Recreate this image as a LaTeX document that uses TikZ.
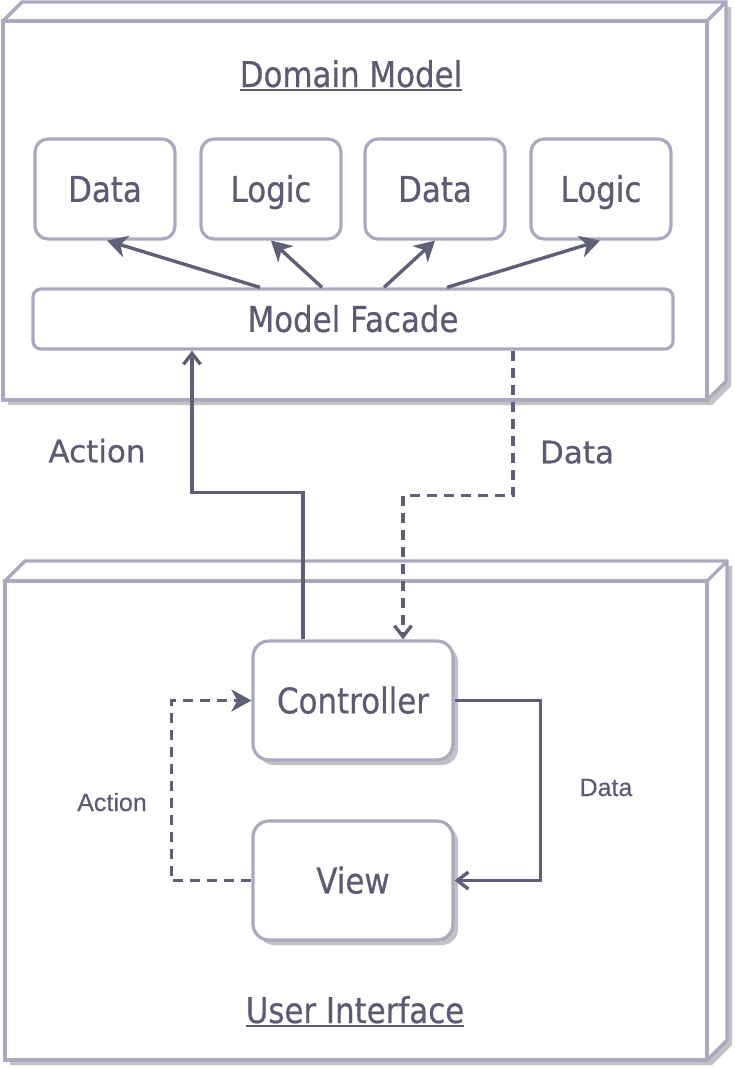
\documentclass[tikz,border=0pt]{standalone}
\usepackage{fontspec}
\setmainfont{DejaVu Sans}[FakeBold=0.4]
\newfontfamily\boxfont{DejaVu Sans}[FakeStretch=0.87,FakeBold=0.5]
\newfontfamily\lblfont{Liberation Sans}[FakeBold=0.3]
\usetikzlibrary{arrows.meta,shadows,calc}
\definecolor{bord}{HTML}{A9A9C0}
\definecolor{ink}{HTML}{5B5B74}
\definecolor{wire}{HTML}{5F5F78}
\definecolor{shd}{HTML}{C2C2C2}
\begin{document}
\begin{tikzpicture}[x=1pt,y=-1pt,
  cube/.style={draw=bord, line width=3.2pt, line join=miter},
  boxtext/.style={text=ink, font=\boxfont\fontsize{35.5}{40}\selectfont, text height=25.8pt, text depth=0pt, inner sep=0pt},
  part/.style={boxtext, draw=bord, line width=3.2pt, fill=white, rounded corners=13pt, minimum width=140pt, minimum height=100pt},
  facade/.style={part, rounded corners=8pt, minimum width=640pt, minimum height=60pt},
  comp/.style={part, rounded corners=16pt, minimum width=200pt, minimum height=119pt,
    drop shadow={shadow xshift=5pt, shadow yshift=-5pt, fill=shd, opacity=1}},
  title/.style={text=ink, font=\boxfont\fontsize{35.5}{40}\selectfont, inner sep=0pt, anchor=base},
  biglbl/.style={text=ink, font=\fontsize{31}{36}\selectfont, text height=22.6pt, text depth=0pt, inner sep=0pt},
  smalllbl/.style={text=ink, font=\lblfont\fontsize{25}{30}\selectfont, text height=18pt, text depth=0pt, inner sep=0pt},
  conn/.style={draw=wire, line width=3.4pt},
  dashconn/.style={conn, dash pattern=on 10pt off 7pt},
  fillhead/.style={-{Stealth[length=20pt,width=22pt,inset=6pt]}},
  openhead/.style={-{Straight Barb[length=11pt,width=17pt]}}
]
\useasboundingbox (0,0) rectangle (734,1068);
\fill[white] (0,0) rectangle (734,1068);

% Domain Model container
\fill[shd] (8,26) -- (27,7) -- (731,7) -- (731,386) -- (712,405) -- (8,405) -- cycle;
\fill[white] (3,21) -- (22,2) -- (726,2) -- (726,381) -- (707,400) -- (3,400) -- cycle;
\draw[cube] (3,21) rectangle (707,400);
\draw[cube] (3,21) -- (22,2) -- (726,2) -- (726,381) -- (707,400);
\draw[cube] (707,21) -- (726,2);

% User Interface container
\fill[shd] (10,586) -- (30,566) -- (732,566) -- (732,1045) -- (712,1065) -- (10,1065) -- cycle;
\fill[white] (5,581) -- (25,561) -- (727,561) -- (727,1040) -- (707,1060) -- (5,1060) -- cycle;
\draw[cube] (5,581) rectangle (707,1060);
\draw[cube] (5,581) -- (25,561) -- (727,561) -- (727,1040) -- (707,1060);
\draw[cube] (707,581) -- (727,561);

% titles
\node[title] (dm) at (351,87) {Domain Model};
\draw[ink, line width=1.8pt] ([yshift=-3pt]dm.base west) -- ([yshift=-3pt]dm.base east);
\node[title] (ui) at (355,1023) {User Interface};
\draw[ink, line width=1.8pt] ([yshift=-3pt]ui.base west) -- ([yshift=-3pt]ui.base east);

% domain parts
\node[part] (d1) at (105,189) {Data};
\node[part] (l1) at (271,189) {Logic};
\node[part] (d2) at (435,189) {Data};
\node[part] (l2) at (601,189) {Logic};
\node[facade] (mf) at (353,319) {Model Facade};

\draw[conn, fillhead] ([xshift=-93pt]mf.north) -- ([xshift=2pt]d1.south);
\draw[conn, fillhead] ([xshift=-31pt]mf.north) -- (l1.south);
\draw[conn, fillhead] ([xshift=31pt]mf.north) -- (d2.south);
\draw[conn, fillhead] ([xshift=94pt]mf.north) -- ([xshift=-1pt]l2.south);

% UI parts
\node[comp] (ctrl) at (353,700.5) {Controller};
\node[comp] (view) at (353,880.5) {View};

% between layers
\draw[conn, openhead] ([xshift=-50pt]ctrl.north) -- ++(0,-147) -| ([xshift=-161pt]mf.south);
\draw[dashconn, openhead] ([xshift=160pt]mf.south) -- ++(0,145) -| ([xshift=50pt]ctrl.north);
\node[biglbl] (la) at (97,451) {Action};
\node[biglbl] (ld) at (577,452) {Data};

% inside UI
\draw[dashconn, fillhead] (view.west) -- ++(-80,0) |- (ctrl.west);
\draw[conn, openhead] (ctrl.east) -- ++(86,0) |- (view.east);
\node[smalllbl] (sa) at (112,802) {Action};
\node[smalllbl] (sd) at (606,787) {Data};
\end{tikzpicture}
\end{document}
